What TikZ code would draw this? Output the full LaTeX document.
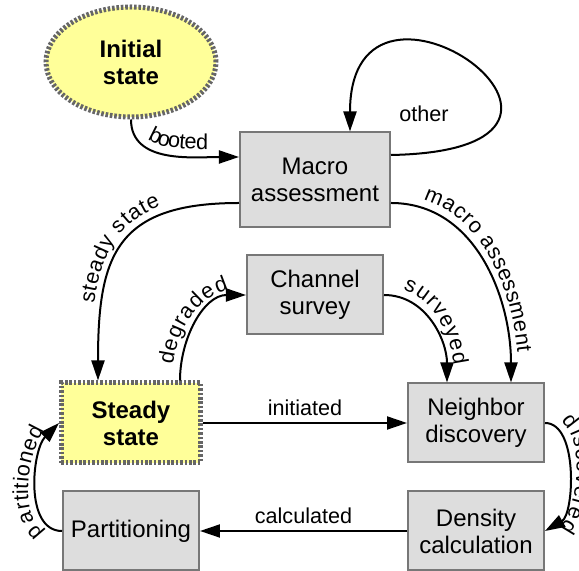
\documentclass[tikz,border=0pt]{standalone}
\usepackage{fontspec}
\setmainfont{Liberation Sans}
\usetikzlibrary{shapes,arrows.meta,calc,decorations.text}
\definecolor{boxgray}{HTML}{DDDDDD}
\definecolor{edgegray}{HTML}{777777}
\definecolor{dashgray}{HTML}{666666}
\definecolor{stateyellow}{HTML}{FFFF99}
\newcommand{\nodefont}{\fontsize{12}{13.5}\selectfont}
\newcommand{\labelfont}{\fontsize{10.8}{12}\selectfont}
\tikzstyle{block} = [draw=edgegray, line width=1pt, fill=boxgray, rectangle, minimum width=68pt, minimum height=39.5pt, align=center, font=\nodefont]
\tikzstyle{special} = [draw=dashgray, line width=2.5pt, dash pattern=on 1.3pt off 0.9pt, fill=stateyellow, align=center, font=\nodefont\bfseries]
\tikzset{along/.style={postaction={decorate, decoration={text along path, text align=center, raise=4pt, text={|\labelfont|#1}}}}}
\tikzset{alongrev/.style={postaction={decorate, decoration={text along path, reverse path, text align=center, raise=4pt, text={|\labelfont|#1}}}}}

\begin{document}
\begin{tikzpicture}[x=1pt, y=1pt, auto, line width=1pt, >={Triangle[length=10pt,width=6.5pt]}]
    \useasboundingbox (-65.5,-74) rectangle (224,211.5);
    % We start by placing the states
    \node [special, rectangle, minimum width=69.5pt, minimum height=40pt] (steady) {Steady\\state};
    \node [special, ellipse, minimum width=85pt, minimum height=55pt, inner sep=0pt, above of=steady, node distance=180.5pt] (init) {Initial\\state};
    \node [block, right of=steady, node distance=172.5pt] (neighbor) {Neighbor\\discovery};
    \node [block, below of=steady, node distance=54pt] (partition) {Partitioning};
    \node [block, right of=partition, node distance=172.5pt] (density) {Density\\calculation};
    \node [block] (channel) at (92,64) {Channel\\survey};
    \node [block, above of=channel, node distance=57.5pt, minimum width=75pt, minimum height=47.5pt] (macro) {Macro\\assessment};

    % Then the transitions
    \draw [->, along=booted] (init.south) to[out=-90, in=180] ($(macro.west)+(0,11.5)$);
    \draw [->] ($(macro.east)+(0,12.5)$) .. controls +(135,2.5) and +(0,101.5) .. ($(macro.north)+(17.5,0)$);
    \node (other) at ($(macro.north east)+(16.5,9)$) {\labelfont other};
    \draw [->, alongrev=steady state] ($(macro.west)+(0,-11.5)$) to[out=180, in=90, looseness=1.4] ($(steady.north)+(-16.5,0)$);
    \draw [->, along=macro assessment] ($(macro.east)+(0,-11.5)$) to[out=0, in=90] ($(neighbor.north)+(17.5,0)$);
    \draw [->, along=degraded] ($(steady.north)+(24.5,0)$) to[out=90, in=180] (channel.west);
    \draw [->, along=surveyed] (channel.east) to[out=0, in=90] ($(neighbor.north)+(-14.5,0)$);
    \draw [->] (steady) -- node {\labelfont initiated} (neighbor);
    \draw [->, along=discovered] (neighbor.east) to[out=0, in=30, looseness=0.8] (density.east);
    \draw [->] (density) -- node [swap] {\labelfont calculated} (partition);
    \draw [->, along=partitioned] (partition.west) to[out=180, in=225, looseness=0.9] (steady.west);
\end{tikzpicture}
\end{document}
